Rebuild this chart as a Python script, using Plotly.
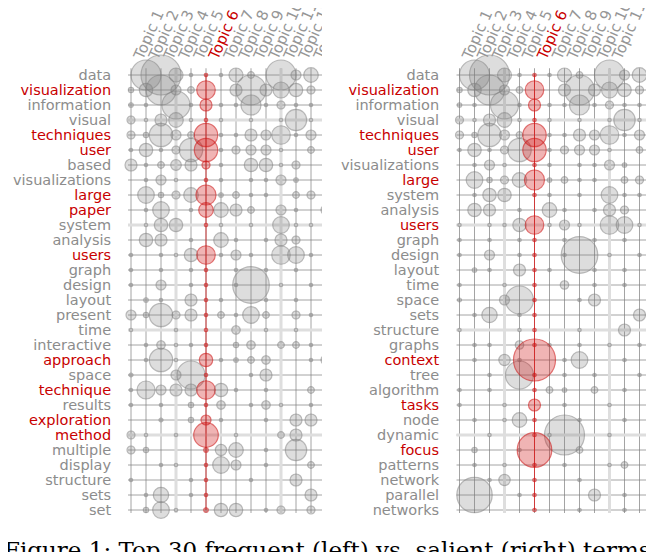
import plotly.graph_objects as go

# topics (columns) and the highlighted one
topics = ["Topic %d" % i for i in range(1, 15)]
selected_topic = 6

# left panel: top 30 frequent terms
left_terms = ["data", "visualization", "information", "visual", "techniques", "user",
              "based", "visualizations", "large", "paper", "system", "analysis", "users",
              "graph", "design", "layout", "present", "time", "interactive", "approach",
              "space", "technique", "results", "exploration", "method", "multiple",
              "display", "structure", "sets", "set"]
left_selected = ["visualization", "techniques", "user", "large", "paper", "users",
                 "approach", "technique", "exploration", "method"]

# right panel: top 30 salient terms
right_terms = ["data", "visualization", "information", "visual", "techniques", "user",
               "visualizations", "large", "system", "analysis", "users", "graph", "design",
               "layout", "time", "space", "sets", "structure", "graphs", "context", "tree",
               "algorithm", "tasks", "node", "dynamic", "focus", "patterns", "network",
               "parallel", "networks"]
right_selected = ["visualization", "techniques", "user", "large", "users", "context",
                  "tasks", "focus"]

# term-topic weights (circle area), one row per term, one column per topic
left_weights = [
    [0, 225, 400, 49, 3, 3, 3, 49, 11, 0, 225, 25, 53, 0],
    [7, 45, 225, 25, 11, 86, 0, 36, 225, 36, 64, 45, 16, 0],
    [5, 3, 0, 196, 3, 36, 3, 3, 100, 3, 16, 3, 3, 0],
    [16, 3, 36, 53, 3, 3, 3, 0, 3, 0, 3, 114, 3, 0],
    [16, 7, 137, 25, 11, 137, 3, 3, 36, 25, 86, 3, 25, 0],
    [3, 45, 3, 16, 137, 137, 3, 16, 25, 25, 3, 0, 11, 0],
    [36, 3, 11, 28, 36, 16, 3, 0, 45, 45, 3, 16, 0, 0],
    [0, 3, 25, 3, 0, 3, 3, 0, 3, 3, 25, 5, 0, 0],
    [0, 69, 7, 16, 53, 100, 5, 11, 3, 3, 0, 11, 16, 0],
    [0, 3, 69, 0, 3, 53, 53, 36, 11, 0, 25, 3, 0, 25],
    [0, 3, 45, 45, 0, 3, 3, 0, 3, 0, 69, 3, 3, 0],
    [0, 45, 36, 0, 3, 0, 53, 3, 0, 3, 36, 16, 0, 0],
    [3, 0, 3, 3, 45, 86, 3, 25, 3, 0, 86, 69, 3, 0],
    [3, 0, 3, 0, 3, 3, 0, 3, 0, 3, 0, 3, 0, 0],
    [3, 0, 25, 0, 3, 3, 0, 3, 335, 0, 3, 0, 3, 0],
    [0, 5, 3, 0, 36, 3, 3, 0, 0, 3, 0, 3, 0, 0],
    [25, 7, 137, 16, 36, 3, 11, 3, 69, 11, 0, 16, 3, 0],
    [3, 0, 0, 3, 0, 3, 0, 18, 0, 3, 0, 3, 0, 0],
    [0, 3, 18, 3, 3, 3, 0, 7, 18, 0, 11, 11, 3, 0],
    [0, 3, 137, 3, 0, 45, 3, 5, 11, 18, 0, 0, 3, 25],
    [4, 0, 0, 25, 196, 3, 0, 0, 3, 36, 0, 0, 0, 0],
    [3, 81, 25, 36, 36, 86, 45, 3, 0, 3, 0, 0, 11, 0],
    [3, 0, 3, 0, 7, 3, 18, 0, 3, 18, 3, 0, 3, 0],
    [0, 0, 4, 0, 7, 25, 3, 0, 0, 3, 0, 36, 36, 0],
    [16, 3, 0, 3, 0, 151, 0, 3, 0, 0, 11, 36, 0, 0],
    [16, 7, 0, 0, 0, 5, 32, 53, 0, 3, 0, 114, 0, 0],
    [0, 0, 3, 3, 0, 3, 69, 25, 0, 3, 0, 0, 11, 0],
    [3, 0, 0, 0, 3, 3, 0, 0, 3, 0, 0, 36, 0, 0],
    [0, 3, 59, 0, 3, 3, 0, 0, 0, 0, 0, 0, 36, 0],
    [0, 7, 69, 3, 0, 5, 45, 45, 0, 3, 16, 0, 16, 0],
]

right_weights = [
    [0, 225, 400, 49, 3, 3, 3, 49, 11, 0, 225, 25, 53, 0],
    [7, 45, 225, 25, 11, 86, 0, 36, 225, 36, 64, 45, 16, 0],
    [5, 3, 0, 196, 3, 36, 3, 3, 100, 3, 16, 3, 3, 0],
    [16, 3, 36, 53, 3, 3, 3, 0, 3, 0, 3, 114, 3, 0],
    [16, 7, 137, 25, 11, 137, 3, 3, 36, 25, 86, 3, 25, 0],
    [3, 45, 3, 16, 137, 137, 3, 16, 25, 25, 3, 0, 11, 0],
    [0, 3, 25, 3, 0, 3, 3, 0, 3, 3, 25, 5, 0, 0],
    [0, 69, 7, 16, 53, 100, 5, 11, 3, 3, 0, 11, 16, 0],
    [0, 3, 45, 45, 0, 3, 3, 0, 3, 0, 69, 3, 3, 0],
    [0, 45, 36, 0, 3, 0, 53, 3, 0, 3, 36, 16, 0, 0],
    [3, 0, 3, 3, 45, 86, 3, 25, 3, 0, 86, 69, 3, 0],
    [3, 0, 3, 0, 3, 3, 0, 3, 0, 3, 0, 3, 0, 0],
    [3, 0, 25, 0, 3, 3, 0, 3, 335, 0, 3, 0, 3, 0],
    [0, 5, 3, 0, 36, 3, 3, 0, 0, 3, 0, 3, 0, 0],
    [3, 0, 0, 3, 0, 3, 0, 18, 0, 3, 0, 3, 0, 0],
    [4, 0, 0, 25, 196, 3, 0, 0, 3, 36, 0, 0, 0, 0],
    [0, 3, 59, 0, 3, 3, 0, 0, 0, 0, 0, 0, 36, 0],
    [3, 0, 0, 0, 3, 3, 0, 0, 3, 0, 0, 36, 0, 0],
    [0, 3, 3, 0, 18, 3, 3, 0, 3, 0, 3, 0, 3, 0],
    [0, 3, 0, 32, 3, 441, 0, 3, 69, 0, 0, 3, 0, 0],
    [0, 0, 3, 0, 196, 3, 0, 3, 0, 3, 0, 0, 3, 0],
    [3, 0, 3, 0, 0, 3, 11, 5, 0, 11, 0, 3, 0, 0],
    [3, 0, 0, 3, 0, 36, 0, 3, 0, 0, 3, 0, 0, 0],
    [0, 3, 0, 3, 53, 3, 0, 0, 3, 0, 0, 3, 0, 0],
    [0, 0, 3, 0, 0, 3, 3, 400, 0, 0, 3, 0, 0, 0],
    [0, 7, 0, 0, 3, 299, 0, 0, 11, 0, 0, 0, 0, 0],
    [0, 3, 0, 3, 0, 3, 0, 3, 0, 0, 3, 11, 0, 0],
    [0, 0, 3, 32, 0, 3, 0, 0, 3, 0, 0, 0, 0, 0],
    [0, 313, 0, 0, 3, 3, 0, 0, 0, 36, 0, 3, 0, 0],
    [0, 0, 0, 0, 0, 3, 0, 0, 3, 0, 0, 3, 0, 0],
]

W, H = 654, 552
OFF = 8  # page body margin, the figure sits 8px in from the window corner
FONT = "DejaVu Sans"
GRAY_TXT = "rgb(140,140,140)"
TOPIC_TXT = "rgb(150,150,150)"
RED_TXT = "rgb(200,0,0)"


def px_x(p):
    return (p - OFF) / W


def px_y(p):
    return 1 - (p - OFF) / H


def colored(label, red, gray=GRAY_TXT):
    return '<span style="color:%s">%s</span>' % (RED_TXT if red else gray, label)


def add_panel(fig, terms, selected, weights, xa, ya):
    n_rows = len(terms)
    n_cols = len(topics)
    # grid lines
    gx, gy = [], []
    for r in range(1, n_rows + 1):
        gx += [0.8, n_cols + 0.6, None]
        gy += [r, r, None]
    for c in range(1, n_cols + 1):
        gx += [c, c, None]
        gy += [0.55, n_rows + 0.2, None]
    fig.add_trace(go.Scatter(x=gx, y=gy, mode="lines", xaxis=xa, yaxis=ya,
                             line=dict(color="rgba(125,125,125,0.7)", width=1),
                             hoverinfo="skip", showlegend=False))
    # lighter wide guide lines every 7th row / column
    bx, by = [], []
    for r in range(4, n_rows + 1, 7):
        bx += [0.8, n_cols + 0.6, None]
        by += [r, r, None]
    for c in range(4, n_cols + 1, 7):
        bx += [c, c, None]
        by += [0.55, n_rows + 0.2, None]
    fig.add_trace(go.Scatter(x=bx, y=by, mode="lines", xaxis=xa, yaxis=ya,
                             line=dict(color="rgba(222,222,222,1)", width=3),
                             hoverinfo="skip", showlegend=False))
    # highlighted topic line
    fig.add_trace(go.Scatter(x=[selected_topic, selected_topic], y=[0.95, n_rows],
                             mode="lines", xaxis=xa, yaxis=ya,
                             line=dict(color="rgba(215,40,40,0.85)", width=1),
                             hoverinfo="skip", showlegend=False))
    # circles
    px, py, ps, rx, ry, rs = [], [], [], [], [], []
    for r, row in enumerate(weights, start=1):
        for c, w in enumerate(row, start=1):
            if w <= 0:
                continue
            if c == selected_topic:
                rx.append(c); ry.append(r); rs.append(w)
            else:
                px.append(c); py.append(r); ps.append(w)
    fig.add_trace(go.Scatter(x=px, y=py, mode="markers", xaxis=xa, yaxis=ya,
                             marker=dict(size=ps, sizemode="area", sizeref=0.5,
                                         color="rgba(130,130,130,0.38)",
                                         line=dict(color="rgba(125,125,125,0.75)", width=1.2)),
                             hoverinfo="skip", showlegend=False))
    fig.add_trace(go.Scatter(x=rx, y=ry, mode="markers", xaxis=xa, yaxis=ya,
                             marker=dict(size=rs, sizemode="area", sizeref=0.5,
                                         color="rgba(210,20,20,0.45)",
                                         line=dict(color="rgba(205,20,20,0.85)", width=1.2)),
                             hoverinfo="skip", showlegend=False))


fig = go.Figure()
add_panel(fig, left_terms, left_selected, left_weights, "x", "y")
add_panel(fig, right_terms, right_selected, right_weights, "x2", "y2")
# dummy traces so the overlaying topic-label axes are drawn
fig.add_trace(go.Scatter(x=[1], y=[1], xaxis="x3", yaxis="y", mode="markers",
                         marker=dict(opacity=0), hoverinfo="skip", showlegend=False))
fig.add_trace(go.Scatter(x=[1], y=[1], xaxis="x4", yaxis="y2", mode="markers",
                         marker=dict(opacity=0), hoverinfo="skip", showlegend=False))

# rows are 15px apart (row 1 at y=75), columns 15px apart
ydom = [px_y(520), px_y(52)]
yrange = [30.6667, -0.5333]
left_xrange = [0.5333, 13.7333]
right_xrange = [0.5, 0.5 + (W + OFF - 452) / 15]
topic_text = [colored(t, i + 1 == selected_topic, TOPIC_TXT) for i, t in enumerate(topics)]
topic_vals = list(range(1, len(topics) + 1))


def term_axis(terms, selected, dom, anchor):
    return dict(domain=dom, range=yrange, anchor=anchor, automargin=False,
                tickvals=list(range(1, len(terms) + 1)),
                ticktext=[colored(t, t in selected) for t in terms],
                ticks="outside", ticklen=9, tickcolor="rgba(0,0,0,0)",
                tickfont=dict(family=FONT, size=14.5, color=GRAY_TXT),
                showgrid=False, zeroline=False, showline=False)


def plain_x(dom, rng, anchor):
    return dict(domain=dom, range=rng, anchor=anchor, visible=False, automargin=False,
                showgrid=False, zeroline=False)


def topic_axis(over, rng):
    return dict(overlaying=over, anchor="free", position=px_y(68), side="top",
                automargin=False, ticklabelshift=5,
                range=rng, tickvals=topic_vals, ticktext=topic_text, tickangle=-66,
                ticks="", tickfont=dict(family=FONT, size=15, color=TOPIC_TXT),
                showgrid=False, zeroline=False, showline=False)


fig.update_layout(
    width=W, height=H,
    margin=dict(l=0, r=0, t=0, b=0, autoexpand=False),
    paper_bgcolor="white", plot_bgcolor="white",
    xaxis=plain_x([px_x(124), px_x(322)], left_xrange, "y"),
    yaxis=term_axis(left_terms, left_selected, ydom, "x"),
    xaxis2=plain_x([px_x(452), 1.0], right_xrange, "y2"),
    yaxis2=term_axis(right_terms, right_selected, ydom, "x2"),
    xaxis3=topic_axis("x", left_xrange),
    xaxis4=topic_axis("x2", right_xrange),
    shapes=[dict(type="rect", xref="paper", yref="paper", layer="above",
                 x0=px_x(322), x1=px_x(450), y0=px_y(63), y1=1.0,
                 fillcolor="white", line=dict(width=0))],
    annotations=[dict(text="Figure 1: Top 30 frequent (left) vs. salient (right) terms",
                      xref="paper", yref="paper", x=px_x(2), y=px_y(535),
                      xanchor="left", yanchor="top", showarrow=False,
                      font=dict(family="DejaVu Serif", size=23, color="black"))],
)

fig.write_html("out.html")
